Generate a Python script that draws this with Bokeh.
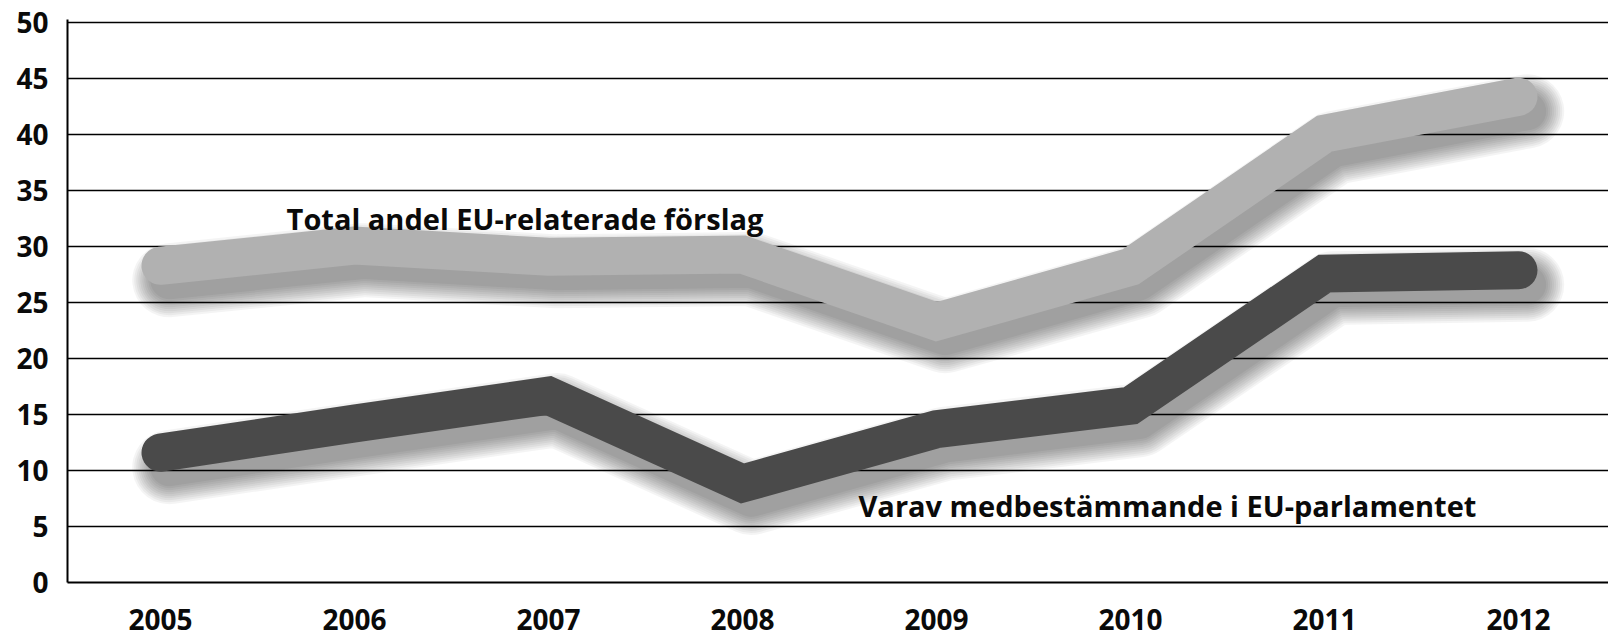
from bokeh.plotting import figure
from bokeh.models import ColumnDataSource, Label, FixedTicker, Range1d
from bokeh.transform import dodge
from bokeh.embed import file_html
from bokeh.resources import INLINE

# ---- data ----
years = [2005, 2006, 2007, 2008, 2009, 2010, 2011, 2012]
total_share = [28.3, 30.1, 29.1, 29.3, 23.3, 28.2, 40.1, 43.4]
codecision = [11.6, 14.2, 16.7, 8.85, 13.7, 15.8, 27.6, 27.9]
y_ticks = [0, 5, 10, 15, 20, 25, 30, 35, 40, 45, 50]
label_total = "Total andel EU-relaterade förslag"
label_codec = "Varav medbestämmande i EU-parlamentet"

# ---- styling ----
FONT = "Open Sans"
LIGHT = "#b1b1b1"
DARK = "#4a4a4a"
LW = 38

src = ColumnDataSource(dict(x=years, total=total_share, codec=codecision))

p = figure(width=1608, height=638, output_backend="svg", toolbar_location=None,
           x_range=Range1d(2004.5206, 2012.4639), y_range=Range1d(0, 50.3),
           min_border_left=67, min_border_right=0, min_border_top=19,
           min_border_bottom=56, background_fill_color="white",
           border_fill_color="white")
p.outline_line_color = None

# grid
p.xgrid.visible = False
p.ygrid.ticker = FixedTicker(ticks=y_ticks[1:])
p.ygrid.grid_line_color = "black"
p.ygrid.grid_line_width = 1.7

# axes
p.yaxis.ticker = FixedTicker(ticks=y_ticks)
p.xaxis.ticker = FixedTicker(ticks=years)
for ax in (p.xaxis[0], p.yaxis[0]):
    ax.axis_line_color = "black"
    ax.axis_line_width = 2
    ax.major_tick_line_color = None
    ax.minor_tick_line_color = None
    ax.major_label_text_font = FONT
    ax.major_label_text_font_style = "bold"
    ax.major_label_text_color = "#0a0a0a"
p.yaxis.major_label_text_font_size = "28px"
p.xaxis.major_label_text_font_size = "28px"
p.yaxis.major_label_standoff = 13
p.xaxis.major_label_standoff = 20

# soft shadows (offset down-right)
sx = dodge("x", 0.045, range=p.x_range)
for k in range(10):
    w = LW + 4 * k
    for col in ("total", "codec"):
        p.line(x=sx, y=dodge(col, -1.3, range=p.y_range), source=src,
               line_color="black", line_alpha=0.045, line_width=w,
               line_cap="round", line_join="round")

# main lines
p.line(x="x", y="total", source=src, line_color=LIGHT, line_width=LW,
       line_cap="round", line_join="miter")
p.line(x="x", y="codec", source=src, line_color=DARK, line_width=LW,
       line_cap="round", line_join="miter")

# annotations
p.add_layout(Label(x=2005.65, y=32.5, text=label_total, text_font=FONT,
                   text_font_style="bold", text_font_size="29px",
                   text_color="#0a0a0a", text_baseline="alphabetic"))
p.add_layout(Label(x=2008.598, y=6.9, text=label_codec, text_font=FONT,
                   text_font_style="bold", text_font_size="29px",
                   text_color="#0a0a0a", text_baseline="alphabetic"))

open("out.html", "w").write(file_html(p, INLINE))
